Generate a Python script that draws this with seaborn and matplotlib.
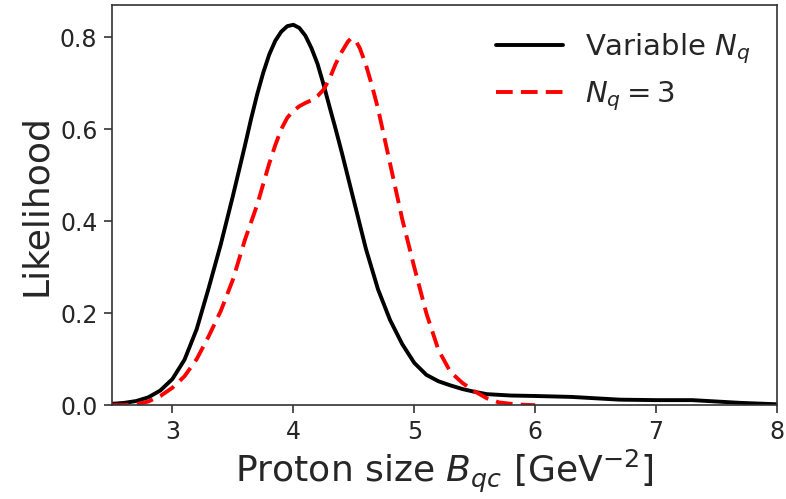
import numpy as np
import pandas as pd
import matplotlib
matplotlib.use("Agg")
import matplotlib.pyplot as plt
import seaborn as sns

# Variable N_q curve
bqc_var = [2.5, 2.6, 2.7, 2.8, 2.9, 3.0, 3.1, 3.2, 3.3, 3.4, 3.5, 3.6, 3.65, 3.7, 3.75,
           3.8, 3.85, 3.9, 3.95, 4.0, 4.05, 4.1, 4.15, 4.2, 4.25, 4.3, 4.35, 4.4, 4.5,
           4.6, 4.7, 4.8, 4.9, 5.0, 5.1, 5.2, 5.3, 5.4, 5.5, 5.6, 5.8, 6.0, 6.3, 6.5,
           6.7, 7.0, 7.3, 7.5, 7.7, 8.0]
lik_var = [0.003, 0.005, 0.009, 0.017, 0.032, 0.057, 0.099, 0.165, 0.255, 0.35, 0.455,
           0.565, 0.622, 0.675, 0.722, 0.762, 0.792, 0.812, 0.824, 0.827, 0.82, 0.803,
           0.776, 0.742, 0.697, 0.648, 0.6, 0.55, 0.445, 0.34, 0.252, 0.185, 0.133,
           0.092, 0.066, 0.052, 0.043, 0.035, 0.029, 0.024, 0.021, 0.020, 0.018, 0.015,
           0.012, 0.011, 0.011, 0.008, 0.005, 0.002]

# N_q = 3 curve
bqc_fix = [2.5, 2.6, 2.7, 2.8, 2.9, 3.0, 3.1, 3.2, 3.3, 3.4, 3.5, 3.6, 3.7, 3.8, 3.85,
           3.9, 3.95, 4.0, 4.05, 4.1, 4.15, 4.2, 4.25, 4.3, 4.35, 4.4, 4.45, 4.475, 4.5,
           4.525, 4.55, 4.6, 4.65, 4.7, 4.8, 4.9, 5.0, 5.1, 5.2, 5.3, 5.4, 5.5, 5.6,
           5.7, 5.8, 5.9, 6.0]
lik_fix = [0.0, 0.0, 0.002, 0.008, 0.02, 0.038, 0.063, 0.1, 0.15, 0.205, 0.273, 0.36,
           0.435, 0.525, 0.565, 0.6, 0.625, 0.64, 0.65, 0.657, 0.663, 0.672, 0.686,
           0.71, 0.742, 0.768, 0.79, 0.797, 0.795, 0.788, 0.776, 0.74, 0.695, 0.645,
           0.525, 0.405, 0.3, 0.2, 0.12, 0.072, 0.048, 0.03, 0.015, 0.006, 0.003,
           0.001, 0.0]

labels = ["Variable $N_q$", "$N_q = 3$"]
x_ticks = [3, 4, 5, 6, 7, 8]
y_ticks = [0.0, 0.2, 0.4, 0.6, 0.8]

sns.set_style("ticks")
plt.rcParams["font.family"] = ["DejaVu Sans"]
plt.rcParams["mathtext.fontset"] = "dejavusans"

fig = plt.figure(figsize=(7.86, 4.99), dpi=100)
ax = fig.add_axes([0.1425, 0.188, 0.846, 0.802])

sns.lineplot(x=bqc_var, y=lik_var, ax=ax, color="black", linewidth=2.8,
             label=labels[0], sort=False)
sns.lineplot(x=bqc_fix, y=lik_fix, ax=ax, color="red", linewidth=2.8,
             linestyle=(0, (4.3, 2.1)), label=labels[1], sort=False)

ax.set_xlim(2.5, 8)
ax.set_ylim(0, 0.87)
ax.set_xticks(x_ticks)
ax.set_xticklabels([str(t) for t in x_ticks])
ax.set_yticks(y_ticks)
ax.set_yticklabels([f"{t:.1f}" for t in y_ticks])
ax.tick_params(axis="both", labelsize=17, length=5.5, width=1.2, color="#333333",
               direction="out", pad=5)
for s in ax.spines.values():
    s.set_color("#333333")
    s.set_linewidth(1.2)

ax.set_xlabel("Proton size $B_{qc}$ [GeV$^{-2}$]", fontsize=26, labelpad=3)
ax.set_ylabel("Likelihood", fontsize=26, labelpad=5)

ax.legend(loc="upper right", frameon=False, fontsize=21, handlelength=2.3,
          handletextpad=0.75, borderaxespad=0.5, labelspacing=0.45)

fig.savefig("out.png", dpi=100)
